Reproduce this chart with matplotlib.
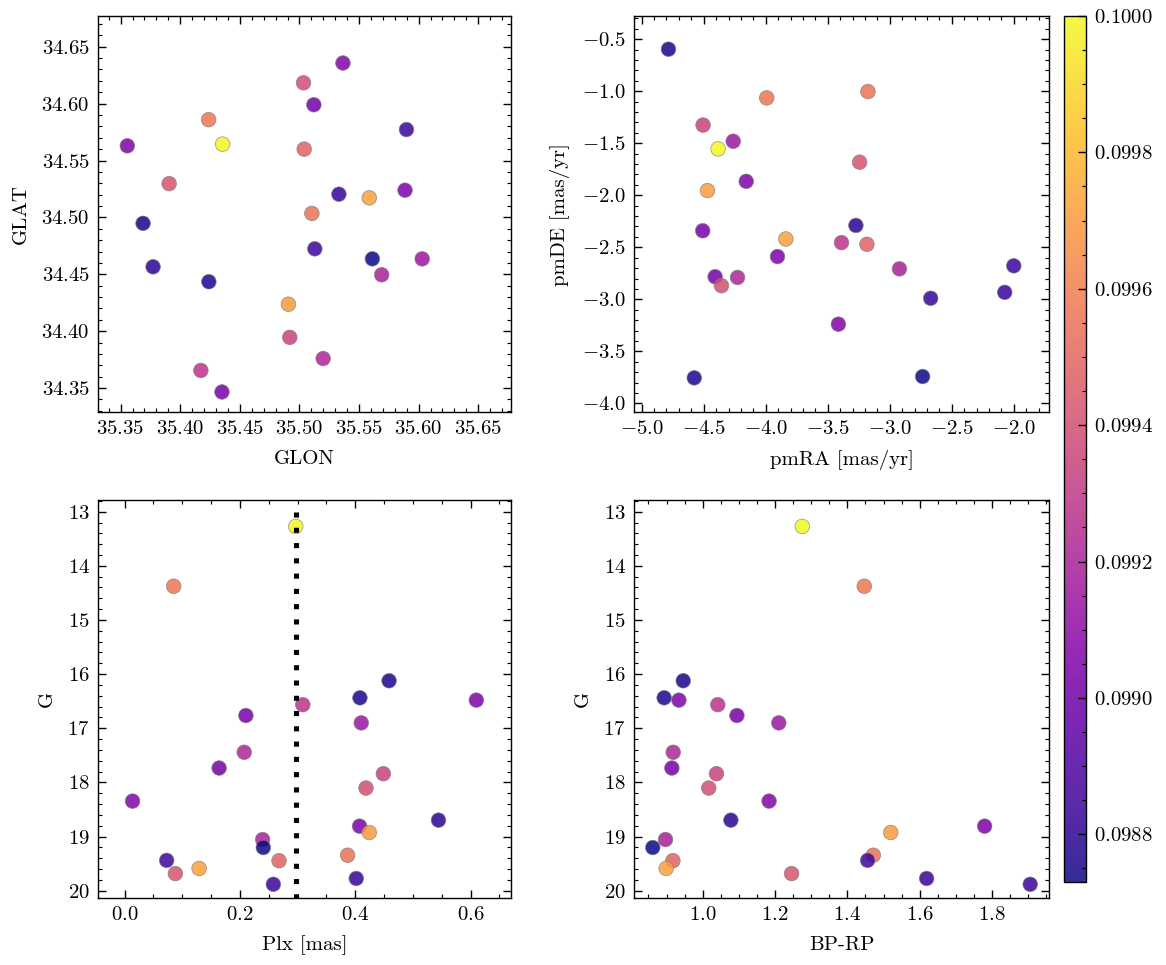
import numpy as np
import matplotlib
matplotlib.use('Agg')
import matplotlib.pyplot as plt
from matplotlib.ticker import MultipleLocator

# cluster members (same star order in every array)
glon = [35.4355, 35.4238, 35.3688, 35.4240, 35.3556, 35.4173, 35.4350, 35.6030, 35.5199, 35.5121,
        35.4919, 35.5034, 35.5365, 35.3772, 35.5886, 35.4908, 35.5690, 35.5612, 35.5104, 35.5129,
        35.5040, 35.5586, 35.3907, 35.5331, 35.5898]
glat = [34.5644, 34.5859, 34.4948, 34.4435, 34.5629, 34.3655, 34.3466, 34.4636, 34.3760, 34.5990,
        34.3946, 34.6183, 34.6357, 34.4566, 34.5239, 34.4237, 34.4496, 34.4636, 34.5035, 34.4724,
        34.5600, 34.5172, 34.5297, 34.5204, 34.5772]
pmra = [-4.384, -3.992, -4.784, -4.576, -4.157, -3.389, -4.508, -4.262, -4.227, -4.408,
        -4.505, -4.357, -3.414, -3.273, -3.905, -4.470, -2.922, -2.735, -3.176, -2.000,
        -3.184, -3.838, -3.243, -2.670, -2.073]
pmde = [-1.554, -1.064, -0.596, -3.755, -1.866, -2.455, -2.341, -1.481, -2.790, -2.783,
        -1.325, -2.869, -3.239, -2.290, -2.589, -1.955, -2.707, -3.742, -1.003, -2.678,
        -2.471, -2.420, -1.682, -2.990, -2.933]
plx = [0.2968, 0.0852, 0.4586, 0.4081, 0.6099, 0.3090, 0.2104, 0.4104, 0.2075, 0.1640,
       0.4487, 0.4186, 0.0139, 0.5443, 0.4075, 0.4243, 0.2394, 0.2406, 0.3867, 0.0730,
       0.2678, 0.1293, 0.0881, 0.4017, 0.2580]
gmag = [13.272, 14.377, 16.123, 16.438, 16.481, 16.565, 16.765, 16.901, 17.444, 17.735,
        17.840, 18.105, 18.346, 18.698, 18.809, 18.926, 19.056, 19.204, 19.346, 19.441,
        19.447, 19.590, 19.685, 19.775, 19.883]
bprp = [1.2753, 1.4468, 0.9462, 0.8934, 0.9342, 1.0417, 1.0946, 1.2104, 0.9184, 0.9147,
        1.0380, 1.0167, 1.1835, 1.0779, 1.7796, 1.5200, 0.8971, 0.8619, 1.4718, 1.4560,
        0.9175, 0.8990, 1.2457, 1.6192, 1.9057]
prob = [0.10000, 0.09957, 0.09875, 0.09876, 0.09905, 0.09928, 0.09903, 0.09915, 0.09922, 0.09902,
        0.09935, 0.09940, 0.09906, 0.09879, 0.09904, 0.09970, 0.09920, 0.09873, 0.09955, 0.09884,
        0.09948, 0.09972, 0.09942, 0.09882, 0.09883]

plt.rcParams.update({
    'font.family': 'serif',
    'font.serif': ['cmr10'],
    'mathtext.fontset': 'cm',
    'axes.formatter.use_mathtext': True,
    'font.size': 9,
    'axes.linewidth': 0.6,
    'axes.labelpad': 5,
    'xtick.direction': 'in', 'ytick.direction': 'in',
    'xtick.top': True, 'ytick.right': True,
    'xtick.minor.visible': True, 'ytick.minor.visible': True,
    'xtick.major.size': 3.5, 'ytick.major.size': 3.5,
    'xtick.minor.size': 1.8, 'ytick.minor.size': 1.8,
    'xtick.major.width': 0.6, 'ytick.major.width': 0.6,
    'xtick.minor.width': 0.5, 'ytick.minor.width': 0.5,
})

W, H = 1166, 965
fig = plt.figure(figsize=(W / 166.6, H / 166.6), dpi=166.6)


def px_axes(x0, y0, x1, y1):
    return fig.add_axes([x0 / W, 1 - y1 / H, (x1 - x0) / W, (y1 - y0) / H])


ax1 = px_axes(98, 16, 511, 412)
ax2 = px_axes(634, 16, 1049, 412)
ax3 = px_axes(98, 500, 511, 898)
ax4 = px_axes(634, 500, 1049, 898)
cax = px_axes(1064, 16, 1086, 882)

kw = dict(c=prob, cmap='plasma', s=40, alpha=0.85, edgecolors='grey', linewidths=0.3)

sc = ax1.scatter(glon, glat, **kw)
ax1.set_xlim(35.331, 35.6775)
ax1.set_ylim(34.329, 34.677)
ax1.xaxis.set_major_locator(MultipleLocator(0.05))
ax1.yaxis.set_major_locator(MultipleLocator(0.05))
ax1.set_xlabel('GLON')
ax1.set_ylabel('GLAT')

ax2.scatter(pmra, pmde, **kw)
ax2.set_xlim(-5.062, -1.716)
ax2.set_ylim(-4.083, -0.277)
ax2.xaxis.set_major_locator(MultipleLocator(0.5))
ax2.yaxis.set_major_locator(MultipleLocator(0.5))
ax2.set_xlabel('pmRA [mas/yr]')
ax2.set_ylabel('pmDE [mas/yr]')

ax3.scatter(plx, gmag, **kw)
# parallax of the brightest member
ax3.vlines(plx[int(np.argmin(gmag))], 13, 21, colors='k', linewidth=2.2,
           linestyles=(0, (1, 2.0)), zorder=3)
ax3.set_xlim(-0.046, 0.670)
ax3.set_ylim(20.136, 12.784)
ax3.set_xlabel('Plx [mas]')
ax3.set_ylabel('G')

ax4.scatter(bprp, gmag, **kw)
ax4.set_xlim(0.810, 1.9576)
ax4.set_ylim(20.136, 12.784)
ax4.set_xlabel('BP-RP')
ax4.set_ylabel('G')

cb = fig.colorbar(sc, cax=cax)
cb.outline.set_linewidth(0.6)
cb.ax.tick_params(which='both', direction='in')
cb.ax.minorticks_on()

fig.savefig('out.png', dpi=166.6)
